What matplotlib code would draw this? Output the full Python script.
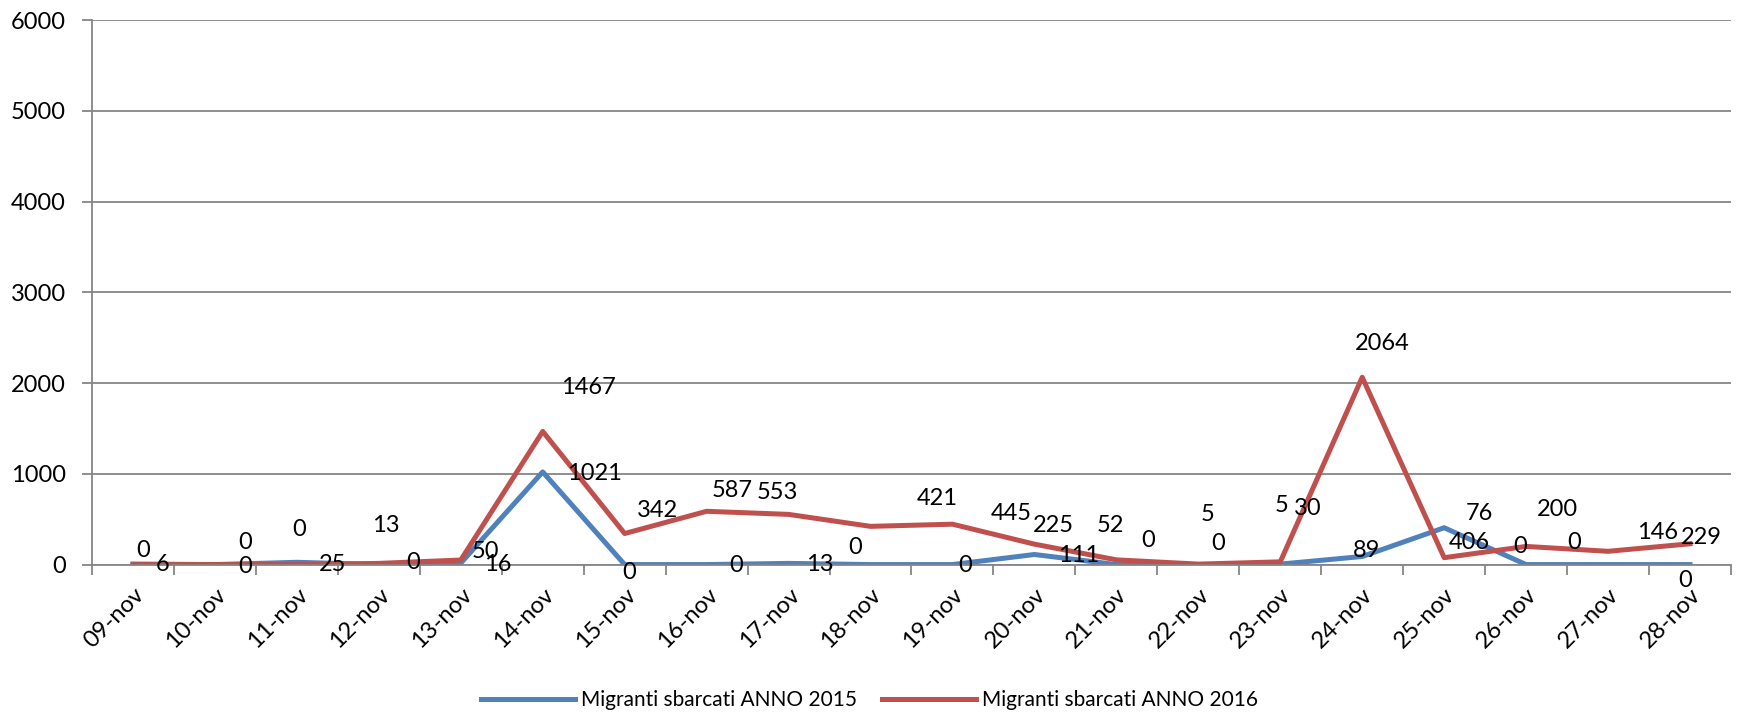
import numpy as np
import matplotlib.pyplot as plt

plt.rcParams['font.family'] = ['Lato', 'DejaVu Sans']

# Data
days = ["09-nov", "10-nov", "11-nov", "12-nov", "13-nov", "14-nov", "15-nov",
        "16-nov", "17-nov", "18-nov", "19-nov", "20-nov", "21-nov", "22-nov",
        "23-nov", "24-nov", "25-nov", "26-nov", "27-nov", "28-nov"]
sbarcati_2015 = [6, 0, 25, 0, 16, 1021, 0, 0, 13, 0, 0, 111, 0, 0, 5, 89, 406, 0, 0, 0]
sbarcati_2016 = [0, 0, 0, 13, 50, 1467, 342, 587, 553, 421, 445, 225, 52, 5, 30, 2064, 76, 200, 146, 229]

# label offsets (pixels, measured on the picture; y down positive)
off_2015 = [(27, 0), (27, 2), (32, 2), (31, -2), (33, 1), (47, 1), (4, 7), (27, 1),
            (28, 1), (-14, -15), (11, 1), (40, 1), (29, -22), (18, -19), (1, -53),
            (4, -5), (23, 13), (-5, -16), (-31, -20), (-4, 14)]
off_2016 = [(9, -13), (27, -20), (2, -32), (6, -34), (22, -8), (41, -40), (30, -21),
            (23, -19), (-10, -20), (60, -25), (53, -10), (17, -17), (-5, -31), (8, -45),
            (25, -48), (18, -30), (32, -40), (28, -33), (45, -17), (10, -6)]

blue = '#4F81BD'
red = '#C0504D'
grey = '#868686'

fig = plt.figure(figsize=(17.39, 7.16), dpi=100)
ax = fig.add_axes([0.0529, 0.2115, 0.9425, 0.7605])

x = np.arange(len(days))
ax.plot(x, sbarcati_2015, color=blue, lw=3.6, label="Migranti sbarcati ANNO 2015")
ax.plot(x, sbarcati_2016, color=red, lw=3.6, label="Migranti sbarcati ANNO 2016")

scale = 1739 / 1568
for xi, v, (dx, dy) in zip(x, sbarcati_2015, off_2015):
    ax.annotate(str(v), (xi, v), xytext=(dx * scale, -dy * scale), textcoords='offset pixels',
                ha='center', va='center', fontsize=17, color='black')
for xi, v, (dx, dy) in zip(x, sbarcati_2016, off_2016):
    ax.annotate(str(v), (xi, v), xytext=(dx * scale, -dy * scale), textcoords='offset pixels',
                ha='center', va='center', fontsize=17, color='black')

ax.set_xlim(-0.5, len(days) - 0.5)
ax.set_ylim(0, 6000)
ax.set_yticks(np.arange(0, 6001, 1000))
ax.yaxis.grid(True, color=grey, lw=1.3)
ax.set_axisbelow(True)

ax.set_xticks(np.arange(-0.5, len(days), 1.0))
ax.set_xticklabels([])
ax.set_xticks(x, minor=True)
ax.set_xticklabels(days, minor=True, rotation=45, ha='right', rotation_mode='anchor', fontsize=17)
ax.tick_params(axis='x', which='major', length=7, color=grey, width=1.3)
ax.tick_params(axis='x', which='minor', length=0, pad=14)
ax.tick_params(axis='y', length=7, color=grey, width=1.3, labelsize=17, pad=12)

for s in ['top', 'right']:
    ax.spines[s].set_visible(False)
for s in ['left', 'bottom']:
    ax.spines[s].set_color(grey)
    ax.spines[s].set_linewidth(1.3)

fig.legend(loc='center', bbox_to_anchor=(0.5, 0.022), ncol=2, frameon=False,
           fontsize=15, handlelength=4.5, columnspacing=1.2, handletextpad=0.3)

fig.savefig('out.png', dpi=100)
